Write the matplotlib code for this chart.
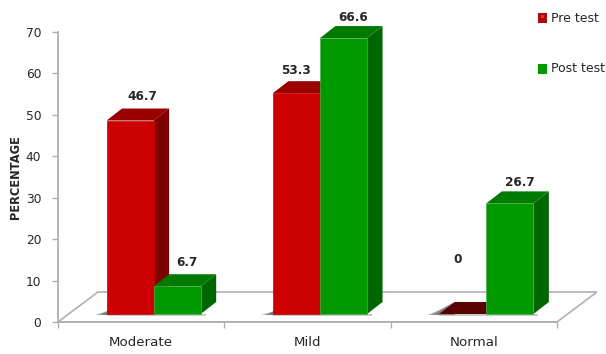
import matplotlib
matplotlib.use('Agg')
import matplotlib.pyplot as plt
from matplotlib.patches import Polygon, Rectangle

categories = ['Moderate', 'Mild', 'Normal']
pre_test = [46.7, 53.3, 0]
post_test = [6.7, 66.6, 26.7]
y_ticks = [0, 10, 20, 30, 40, 50, 60, 70]

W, H = 606, 354
fig = plt.figure(figsize=(W / 100, H / 100), dpi=100)
ax = fig.add_axes([58 / W, 1 - 322 / H, (557 - 58) / W, (322 - 32) / H])
ax.set_xlim(0, 3)
ax.set_ylim(0, 70)

# 3d look: depth of the bars and of the floor, in data units
bar_dx, bar_dy = 0.093, 2.9
floor_dx, floor_dy = 0.24, 7.24
base = 1.93
start, width = 0.292, 0.283

GREY = '#b0b0b0'
TXT = '#262626'
RED = ('#cc0000', '#990000', '#800000')
GREEN = ('#009900', '#007a00', '#006600')


def poly(pts, color, z, alpha=1.0, edge='none', lw=0):
    ax.add_patch(Polygon(pts, closed=True, facecolor=color, edgecolor=edge, linewidth=lw,
                         alpha=alpha, zorder=z, clip_on=False))


def bar3d(x, val, cols, z):
    top = base + val
    if val == 0:
        poly([(x, base), (x + width, base), (x + width + bar_dx, base + bar_dy),
              (x + bar_dx, base + bar_dy)], '#5a0000', z)
        return
    poly([(x, base), (x + width, base), (x + width, top), (x, top)], cols[0], z + 0.2,
         edge='#4fae4f' if cols is GREEN else cols[0], lw=0.5)
    poly([(x, top), (x + width, top), (x + width + bar_dx, top + bar_dy),
          (x + bar_dx, top + bar_dy)], cols[1], z + 0.1)
    poly([(x + width, base), (x + width + bar_dx, base + bar_dy),
          (x + width + bar_dx, top + bar_dy), (x + width, top)], cols[2], z)


def shadow(x, z, flat=False):
    # soft grey smear left of the bar foot, longer under a flat bar
    reach = bar_dx if flat else 0.06
    for i in range(7):
        d = 0.011 * i
        h = (bar_dy if flat else 1.9) - 0.2 * i
        poly([(x - d - 0.01, base - 0.2), (x + reach, base - 0.2), (x + reach, base + h),
              (x + reach - 0.01 - d * 0.5, base + h)], '#606060', z, alpha=0.26)
    poly([(x, base - 0.5), (x + 2 * width + 0.03, base - 0.5), (x + 2 * width + 0.03, base),
          (x, base)], '#a0a0a0', z, alpha=0.55)


# floor
poly([(0, 0), (floor_dx, floor_dy), (3 + floor_dx, floor_dy), (3, 0)], 'white', 1, edge=GREY, lw=1.2)

for i in range(len(categories)):
    x = i + start
    shadow(x, 2, flat=pre_test[i] == 0)
    bar3d(x, pre_test[i], RED, 3 + i)
    bar3d(x + width, post_test[i], GREEN, 3.5 + i)

# value labels, nudged by hand over each bar
pre_shift = [0.072, 0.0, -0.03]
post_shift = [0.06, 0.06, 0.06]
pre_lift = [5.9, 5.4, 13.1]
post_lift = [5.8, 4.9, 5.1]
for i in range(len(categories)):
    x = i + start
    ax.text(x + width / 2 + pre_shift[i], base + pre_test[i] + pre_lift[i], str(pre_test[i]),
            ha='center', va='center', fontsize=8.7, fontweight='bold', color=TXT, zorder=20)
    ax.text(x + 1.5 * width + post_shift[i], base + post_test[i] + post_lift[i], str(post_test[i]),
            ha='center', va='center', fontsize=8.7, fontweight='bold', color=TXT, zorder=20, clip_on=False)

ax.patch.set_alpha(0)
for s in ['top', 'right']:
    ax.spines[s].set_visible(False)
ax.spines['left'].set_color(GREY)
ax.spines['left'].set_linewidth(1.3)
ax.spines['bottom'].set_color(GREY)
ax.spines['bottom'].set_linewidth(1.2)
ax.set_yticks(y_ticks)
ax.set_xticks([0, 1, 2, 3])
ax.set_xticklabels([])
ax.set_xticks([0.5, 1.5, 2.5], minor=True)
ax.set_xticklabels(categories, minor=True)
ax.tick_params(axis='x', which='minor', length=0, pad=10, labelsize=9.6, labelcolor=TXT)
ax.tick_params(axis='x', which='major', length=4, width=1, color=GREY)
ax.tick_params(axis='y', length=4, width=1, color=GREY, labelsize=8.8, labelcolor=TXT, pad=8)
ax.set_ylabel('PERCENTAGE', fontsize=8.3, fontweight='bold', color=TXT)
ax.yaxis.set_label_coords(-36 / 499, 0.5)

# legend
for y, col, label in [(18, '#a80c0c', 'Pre test'), (69, '#009900', 'Post test')]:
    fig.add_artist(Rectangle((538 / W, 1 - (y + 4.5) / H), 9 / W, 9 / H, transform=fig.transFigure,
                             facecolor=col, edgecolor='none'))
    fig.text(551 / W, 1 - y / H, label, fontsize=9.0, color=TXT, va='center', ha='left')
# small highlight on the red key
fig.add_artist(Rectangle((541 / W, 1 - 18 / H), 3 / W, 3 / H, transform=fig.transFigure,
                         facecolor='#ee2a2a', edgecolor='none'))

fig.savefig('out.png', dpi=100)
